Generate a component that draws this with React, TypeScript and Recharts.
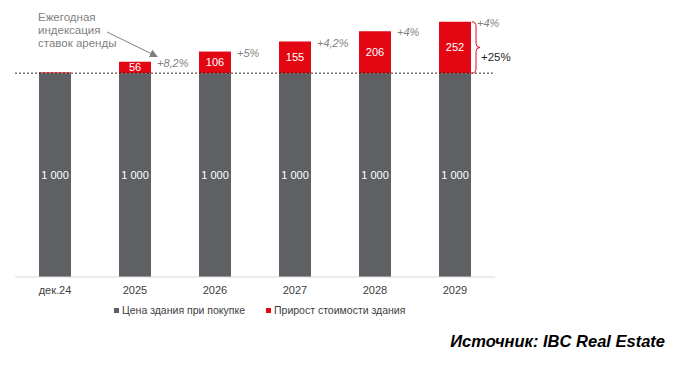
import React from "react";
import { BarChart, Bar, XAxis, YAxis, ReferenceLine, LabelList } from "recharts";

const categories = ["дек.24", "2025", "2026", "2027", "2028", "2029"];
const purchasePrice = [1000, 1000, 1000, 1000, 1000, 1000];
const valueGrowth = [4, 56, 106, 155, 206, 252];
const indexation = ["", "+8,2%", "+5%", "+4,2%", "+4%", "+4%"];
const totalGrowth = "+25%";
const seriesNames = ["Цена здания при покупке", "Прирост стоимости здания"];

const GRAY = "#5f6063";
const RED = "#e30613";
const FONT = "'Liberation Sans', Arial, sans-serif";

const data = categories.map((c, i) => ({
  name: c,
  base: purchasePrice[i],
  growth: valueGrowth[i],
}));

function BaseLabel(props: any) {
  const { x, y, width, height, value } = props;
  return (
    <text x={x + width / 2} y={y + height / 2} fill="#fff" fontSize={11} textAnchor="middle" dominantBaseline="central" fontFamily={FONT}>
      {value.toLocaleString("ru-RU").replace(/\s/g, " ")}
    </text>
  );
}

function GrowthLabel(props: any) {
  const { x, y, width, height, value, index } = props;
  if (value < 10) return null;
  const last = index === categories.length - 1;
  const right = x + width;
  const mid = y + height / 2;
  return (
    <g>
      <text x={x + width / 2} y={mid} fill="#fff" fontSize={11} textAnchor="middle" dominantBaseline="central" fontFamily={FONT}>
        {value}
      </text>
      <text x={right + 6} y={y + 1} fill="#7f7f7f" fontSize={11} fontStyle="italic" dominantBaseline="central" fontFamily={FONT}>
        {indexation[index]}
      </text>
      {last && (
        <g>
          <path
            d={`M${right + 1},${y} Q${right + 5},${y} ${right + 5},${y + 5} L${right + 5},${mid - 4} Q${right + 5},${mid} ${right + 9},${mid} Q${right + 5},${mid} ${right + 5},${mid + 4} L${right + 5},${y + height - 5} Q${right + 5},${y + height} ${right + 1},${y + height}`}
            fill="none"
            stroke={RED}
            strokeWidth={1}
          />
          <text x={right + 10} y={mid + 10} fill="#262626" fontSize={11.5} dominantBaseline="central" fontFamily={FONT}>
            {totalGrowth}
          </text>
        </g>
      )}
    </g>
  );
}

export default function App(): JSX.Element {
  return (
    <div style={{ position: "absolute", left: 0, top: 0, width: 687, height: 368, fontFamily: FONT, background: "#fff" }}>
      <BarChart width={687} height={368} data={data} margin={{ top: 12, right: 192, bottom: 61, left: 15 }} barSize={32}>
        <XAxis
          dataKey="name"
          height={30}
          tickLine={false}
          axisLine={{ stroke: "#d9d9d9" }}
          tick={{ fill: "#404040", fontSize: 11, fontFamily: FONT }}
          tickMargin={3}
        />
        <YAxis hide domain={[0, 1300]} />
        <ReferenceLine y={1000} stroke="#262626" strokeDasharray="2 2" />
        <Bar dataKey="base" stackId="a" fill={GRAY} name={seriesNames[0]} isAnimationActive={false}>
          <LabelList dataKey="base" content={<BaseLabel />} />
        </Bar>
        <Bar dataKey="growth" stackId="a" fill={RED} name={seriesNames[1]} isAnimationActive={false}>
          <LabelList dataKey="growth" content={<GrowthLabel />} />
        </Bar>
      </BarChart>
      <div style={{ position: "absolute", left: 114, top: 304, fontSize: 10.5, color: "#404040", display: "flex", alignItems: "center", whiteSpace: "nowrap" }}>
        <span style={{ width: 5, height: 5, background: GRAY, display: "inline-block", marginRight: 3 }} />
        <span>{seriesNames[0]}</span>
        <span style={{ width: 5, height: 5, background: RED, display: "inline-block", marginLeft: 21, marginRight: 3 }} />
        <span>{seriesNames[1]}</span>
      </div>
      <svg width={687} height={368} style={{ position: "absolute", left: 0, top: 0, pointerEvents: "none" }}>
        <defs>
          <marker id="ah" markerWidth="8" markerHeight="8" refX="6" refY="4" orient="auto">
            <path d="M0,0 L8,4 L0,8 z" fill="#7f7f7f" />
          </marker>
        </defs>
        <text x={38} y={21} fill="#7f7f7f" fontSize={11.5} fontFamily={FONT}>
          <tspan x={38}>Ежегодная</tspan>
          <tspan x={38} dy={13}>индексация</tspan>
          <tspan x={38} dy={13}>ставок аренды</tspan>
        </text>
        <line x1={107} y1={32} x2={156} y2={56} stroke="#7f7f7f" strokeWidth={1} markerEnd="url(#ah)" />
      </svg>
      <div style={{ position: "absolute", right: 22, top: 332, fontSize: 16.5, fontWeight: "bold", fontStyle: "italic", fontFamily: FONT, color: "#000" }}>
        Источник: IBC Real Estate
      </div>
    </div>
  );
}
